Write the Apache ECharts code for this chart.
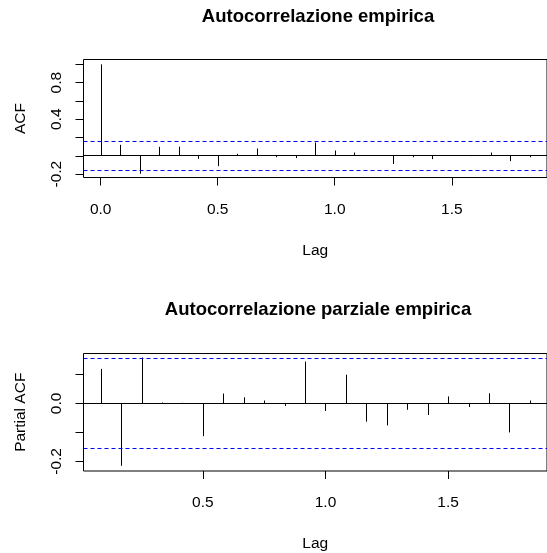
<!DOCTYPE html>
<html>
<head>
<meta charset="utf-8">
<script src="https://cdn.jsdelivr.net/npm/echarts@6/dist/echarts.min.js"></script>
<style>
html,body{margin:0;padding:0;background:#fff;}
#chart{width:547px;height:553px;}
</style>
</head>
<body>
<div id="chart"></div>
<script>
// ---- data ----
var frequency = 12;
var acfLagIndex = [0,1,2,3,4,5,6,7,8,9,10,11,12,13,14,15,16,17,18,19,20,21,22];
var acfValues = [1.0, 0.12, -0.195, 0.098, 0.10, -0.033, -0.113, 0.022, 0.08, -0.015, -0.025,
                 0.145, 0.058, 0.036, 0.005, -0.09, -0.015, -0.036, 0.004, -0.003, 0.036, -0.058, -0.015];
var pacfLagIndex = [1,2,3,4,5,6,7,8,9,10,11,12,13,14,15,16,17,18,19,20,21,22];
var pacfValues = [0.119, -0.215, 0.158, 0.003, 0.002, -0.113, 0.034, 0.021, 0.010, -0.009, 0.144,
                  -0.026, 0.099, -0.063, -0.076, -0.022, -0.040, 0.024, -0.0125, 0.035, -0.100, 0.010];
var confLimit = 0.156;
var acfXTicks = [0, 0.5, 1.0, 1.5];
var pacfXTicks = [0.5, 1.0, 1.5];
var acfYTicks = [-0.2, 0, 0.2, 0.4, 0.6, 0.8, 1.0];
var acfYLabels = [-0.2, 0.4, 0.8];
var pacfYTicks = [-0.2, -0.1, 0, 0.1];
var pacfYLabels = [-0.2, 0];
var titles = ['Autocorrelazione empirica', 'Autocorrelazione parziale empirica'];

var acfData = acfLagIndex.map(function (k, i) { return [k / frequency, acfValues[i]]; });
var pacfData = pacfLagIndex.map(function (k, i) { return [k / frequency, pacfValues[i]]; });
// horizontal reference lines: [level, kind]
var refLines = [[0, 'zero'], [confLimit, 'limit'], [-confLimit, 'limit']];

var FONT = '"Liberation Sans", Arial, sans-serif';
var BLUE = '#0000FF';
var chart = echarts.init(document.getElementById('chart'), null, {renderer: 'canvas'});

function stem(params, api) {
  var x = api.value(0), y = api.value(1);
  var p0 = api.coord([x, 0]);
  var p1 = api.coord([x, y]);
  var px = Math.round(p0[0]) + 0.5;
  return {
    type: 'line',
    shape: {x1: px, y1: p0[1], x2: px, y2: p1[1]},
    style: {stroke: '#000', lineWidth: 1}
  };
}
function hline(params, api) {
  var level = api.value(0);
  var cs = params.coordSys;
  var p = api.coord([cs.x === undefined ? 0 : 0, level]);
  var py = Math.floor(p[1]) + 0.5;
  var isZero = refLines[params.dataIndex][1] === 'zero';
  return {
    type: 'line',
    shape: {x1: cs.x, y1: py, x2: cs.x + cs.width, y2: py},
    style: {stroke: isZero ? '#000' : BLUE, lineWidth: 1, lineDash: isZero ? null : [4, 3]}
  };
}
function refSeries(xi, yi) {
  return {
    type: 'custom', xAxisIndex: xi, yAxisIndex: yi, renderItem: hline, silent: true, clip: true,
    data: refLines.map(function (r) { return [r[0]]; }),
    encode: {y: 0}
  };
}

function xAxisCfg(idx, min, max, ticks) {
  return {
    type: 'value', gridIndex: idx, min: min, max: max, position: 'bottom',
    name: 'Lag', nameLocation: 'middle', nameGap: 65,
    nameTextStyle: {fontFamily: FONT, fontSize: 15.5, color: '#000'},
    axisLine: {show: false, onZero: false},
    splitLine: {show: false},
    axisTick: {show: true, inside: false, length: 8, customValues: ticks, lineStyle: {color: '#000', width: 1}},
    axisLabel: {show: true, customValues: ticks, margin: 24, fontFamily: FONT, fontSize: 15.5, color: '#000',
      formatter: function (v) { return v.toFixed(1); }}
  };
}
function yAxisCfg(idx, min, max, ticks, labels, name) {
  return {
    type: 'value', gridIndex: idx, min: min, max: max, position: 'left',
    name: name, nameLocation: 'middle', nameGap: 55, nameRotate: 90,
    nameTextStyle: {fontFamily: FONT, fontSize: 15.5, color: '#000'},
    axisLine: {show: false, onZero: false},
    splitLine: {show: false},
    axisTick: {show: true, inside: false, length: 8, customValues: ticks, lineStyle: {color: '#000', width: 1}},
    axisLabel: {show: true, customValues: labels, rotate: 90, margin: 19, fontFamily: FONT, fontSize: 15.5, color: '#000',
      formatter: function (v) { return v.toFixed(1); }}
  };
}

var option = {
  animation: false,
  backgroundColor: '#fff',
  title: [
    {text: titles[0], left: 318, top: 7, textAlign: 'center', padding: 0,
     textStyle: {fontFamily: FONT, fontSize: 18.5, fontWeight: 'bold', color: '#000'}},
    {text: titles[1], left: 318, top: 300, textAlign: 'center', padding: 0,
     textStyle: {fontFamily: FONT, fontSize: 18.5, fontWeight: 'bold', color: '#000'}}
  ],
  grid: [
    {left: 83.5, top: 59.5, width: 471, height: 118, show: true, borderColor: '#000', borderWidth: 1, backgroundColor: 'transparent'},
    {left: 83.5, top: 353.5, width: 470, height: 118, show: true, borderColor: '#000', borderWidth: 1, backgroundColor: 'transparent'}
  ],
  xAxis: [
    xAxisCfg(0, -0.0733, 1.9067, acfXTicks),
    xAxisCfg(1, 0.0133, 1.9033, pacfXTicks)
  ],
  yAxis: [
    yAxisCfg(0, -0.237, 1.053, acfYTicks, acfYLabels, 'ACF'),
    yAxisCfg(1, -0.233, 0.172, pacfYTicks, pacfYLabels, 'Partial ACF')
  ],
  series: [
    {type: 'custom', xAxisIndex: 0, yAxisIndex: 0, renderItem: stem, data: acfData, encode: {x: 0, y: 1}, clip: true},
    {type: 'custom', xAxisIndex: 1, yAxisIndex: 1, renderItem: stem, data: pacfData, encode: {x: 0, y: 1}, clip: true},
    refSeries(0, 0),
    refSeries(1, 1)
  ]
};
chart.setOption(option);
</script>
</body>
</html>
